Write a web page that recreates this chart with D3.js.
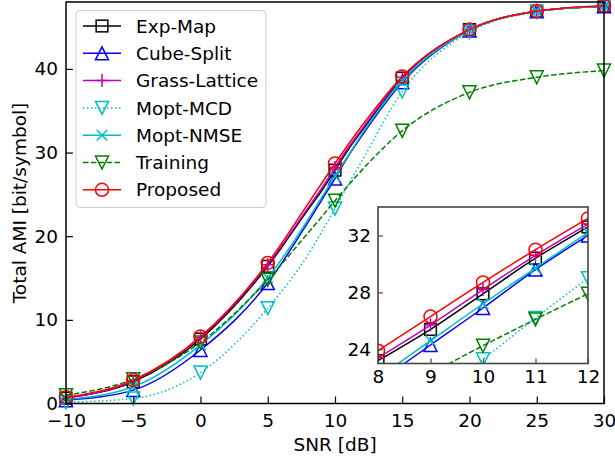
<!DOCTYPE html>
<html>
<head>
<meta charset="utf-8">
<script src="https://cdn.jsdelivr.net/npm/d3@7"></script>
<style>
  html, body { margin: 0; padding: 0; background: #fff; }
  svg { display: block; font-family: "DejaVu Sans", sans-serif; }
</style>
</head>
<body>
<svg id="chart" width="615" height="458"></svg>
<script>
// SNR grid (dB) and total AMI per scheme (bit/symbol)
const snr = [-10, -5, 0, 5, 8, 9, 10, 11, 12, 15, 20, 25, 30];
const expMap       = [0.65, 2.6, 7.7, 16.4, 23.2, 25.4, 27.9, 30.4, 32.6, 38.9, 44.7, 46.9, 47.5];
const cubeSplit    = [0.4, 1.6, 6.4, 14.4, 21.7, 24.3, 26.9, 29.6, 32.0, 38.4, 44.6, 46.9, 47.5];
const grassLattice = [0.6, 2.7, 7.9, 16.6, 23.4, 25.7, 28.2, 30.6, 32.8, 39.0, 44.7, 46.9, 47.5];
const moptMCD      = [0.15, 0.6, 3.7, 11.4, 17.8, 20.5, 23.3, 26.2, 29.0, 37.3, 44.4, 46.8, 47.5];
const moptNMSE     = [0.5, 2.0, 7.0, 15.0, 22.0, 24.6, 27.2, 29.7, 32.2, 38.6, 44.6, 46.9, 47.5];
const training     = [1.0, 2.9, 7.3, 14.8, 20.4, 22.3, 24.25, 26.1, 27.9, 32.6, 37.2, 39.0, 39.8];
const proposed     = [0.75, 2.8, 8.0, 16.8, 23.9, 26.3, 28.7, 31.0, 33.2, 39.1, 44.7, 46.9, 47.55];

const names = ["Exp-Map", "Cube-Split", "Grass-Lattice", "Mopt-MCD", "Mopt-NMSE", "Training", "Proposed"];
const values = [expMap, cubeSplit, grassLattice, moptMCD, moptNMSE, training, proposed];
const colors = ["#000000", "#0000ff", "#bf00bf", "#00bfbf", "#00bfbf", "#008000", "#ff0000"];
const markers = ["square", "triUp", "plus", "triDown", "cross", "triDown", "circle"];
const dashes = [null, null, null, "1.5,2.5", null, "5.5,2.4", null];

const xTicks = [-10, -5, 0, 5, 10, 15, 20, 25, 30];
const yTicks = [0, 10, 20, 30, 40];
const xTicksInset = [8, 9, 10, 11, 12];
const yTicksInset = [24, 28, 32];

const series = names.map((name, i) => ({
  name, color: colors[i], marker: markers[i], dash: dashes[i],
  points: snr.map((s, j) => ({ x: s, y: values[i][j] }))
}));

const svg = d3.select("#chart");
const FONT = 18.5;

// main axes
const x = d3.scaleLinear().domain([-10, 30]).range([66, 604]);
const y = d3.scaleLinear().domain([0, 48]).range([403.5, 2]);

// marker glyphs centred at 0,0
function drawMarker(g, type, color, s) {
  const h = s / 2;
  const common = sel => sel.attr("fill", "none").attr("stroke", color).attr("stroke-width", 1.5);
  if (type === "circle") common(g.append("circle").attr("r", h));
  else if (type === "square") common(g.append("rect").attr("x", -h * 0.9).attr("y", -h * 0.9).attr("width", s * 0.9).attr("height", s * 0.9));
  else if (type === "triUp") common(g.append("path").attr("d", `M0,${-h}L${h},${h}L${-h},${h}Z`));
  else if (type === "triDown") common(g.append("path").attr("d", `M0,${h}L${h},${-h}L${-h},${-h}Z`));
  else if (type === "plus") common(g.append("path").attr("d", `M${-h},0H${h}M0,${-h}V${h}`));
  else if (type === "cross") common(g.append("path").attr("d", `M${-h*0.8},${-h*0.8}L${h*0.8},${h*0.8}M${-h*0.8},${h*0.8}L${h*0.8},${-h*0.8}`));
}

function drawSeries(root, sx, sy, clipId, markerFilter) {
  const g = root.append("g").attr("clip-path", `url(#${clipId})`);
  const line = d3.line().x(d => sx(d.x)).y(d => sy(d.y)).curve(d3.curveMonotoneX);
  series.forEach(s => {
    const pts = s.points.filter(d => sx.domain()[0] - 1.5 <= d.x && d.x <= sx.domain()[1] + 3.5);
    g.append("path").datum(pts).attr("d", line)
      .attr("fill", "none").attr("stroke", s.color).attr("stroke-width", 1.5)
      .attr("stroke-dasharray", s.dash);
    s.points.filter(markerFilter).forEach(d => {
      drawMarker(g.append("g").attr("transform", `translate(${sx(d.x)},${sy(d.y)})`), s.marker, s.color, 13);
    });
  });
}

const defs = svg.append("defs");
defs.append("clipPath").attr("id", "clipMain").append("rect")
  .attr("x", 66 - 8).attr("y", 2 - 8).attr("width", 604 - 66 + 16).attr("height", 403.5 - 2 + 16);

// main curves
drawSeries(svg, x, y, "clipMain", d => d.x % 5 === 0);

// main frame
svg.append("rect").attr("x", 66).attr("y", 2).attr("width", 604 - 66).attr("height", 401.5)
  .attr("fill", "none").attr("stroke", "#000").attr("stroke-width", 1.5);

// main axes with inward ticks
const xAxis = svg.append("g").attr("transform", "translate(0,403.5)")
  .call(d3.axisBottom(x).tickValues(xTicks).tickSizeInner(-7).tickSizeOuter(0).tickPadding(10)
    .tickFormat(d => d < 0 ? "\u2212" + Math.abs(d) : d));
const yAxis = svg.append("g").attr("transform", "translate(66,0)")
  .call(d3.axisLeft(y).tickValues(yTicks).tickSizeInner(-7).tickSizeOuter(0).tickPadding(8));
[xAxis, yAxis].forEach(a => {
  a.select(".domain").remove();
  a.selectAll(".tick line").attr("stroke", "#000").attr("stroke-width", 1.2);
  a.selectAll("text").attr("font-size", FONT).attr("fill", "#000").attr("font-family", "DejaVu Sans");
});

svg.append("text").attr("x", 335).attr("y", 451).attr("text-anchor", "middle")
  .attr("font-size", FONT).text("SNR [dB]");
svg.append("text").attr("transform", "translate(26,203) rotate(-90)").attr("text-anchor", "middle")
  .attr("font-size", FONT).text("Total AMI [bit/symbol]");

// legend
const lg = svg.append("g");
lg.append("rect").attr("x", 76).attr("y", 10.5).attr("width", 190).attr("height", 197).attr("rx", 4)
  .attr("fill", "#fff").attr("fill-opacity", 0.8).attr("stroke", "#cccccc").attr("stroke-width", 1);
series.forEach((s, i) => {
  const cy = 26 + i * 27.3;
  lg.append("line").attr("x1", 83).attr("x2", 121).attr("y1", cy).attr("y2", cy)
    .attr("stroke", s.color).attr("stroke-width", 1.5).attr("stroke-dasharray", s.dash);
  drawMarker(lg.append("g").attr("transform", `translate(102,${cy})`), s.marker, s.color, 13);
  lg.append("text").attr("x", 136).attr("y", cy).attr("dy", "0.36em")
    .attr("font-size", FONT).attr("fill", "#000").text(s.name);
});

// zoomed inset around 8–12 dB
const xi = d3.scaleLinear().domain([8, 12]).range([378, 588]);
const yi = d3.scaleLinear().domain([23, 34]).range([363.5, 207]);
const inset = svg.append("g");
inset.append("rect").attr("x", 378).attr("y", 207).attr("width", 210).attr("height", 156.5).attr("fill", "#fff");
defs.append("clipPath").attr("id", "clipInset").append("rect")
  .attr("x", 378).attr("y", 207).attr("width", 210).attr("height", 156.5);
drawSeries(inset, xi, yi, "clipInset", d => d.x >= 8 && d.x <= 12);
inset.append("rect").attr("x", 378).attr("y", 207).attr("width", 210).attr("height", 156.5)
  .attr("fill", "none").attr("stroke", "#444").attr("stroke-width", 1.6);
const xiAxis = inset.append("g").attr("transform", "translate(0,363.5)")
  .call(d3.axisBottom(xi).tickValues(xTicksInset).tickSizeInner(-5).tickSizeOuter(0).tickPadding(6)
    .tickFormat(d3.format("d")));
const yiAxis = inset.append("g").attr("transform", "translate(378,0)")
  .call(d3.axisLeft(yi).tickValues(yTicksInset).tickSizeInner(-5).tickSizeOuter(0).tickPadding(7)
    .tickFormat(d3.format("d")));
[xiAxis, yiAxis].forEach(a => {
  a.select(".domain").remove();
  a.selectAll(".tick line").attr("stroke", "#444").attr("stroke-width", 1.2);
  a.selectAll("text").attr("font-size", FONT).attr("fill", "#000").attr("font-family", "DejaVu Sans");
});
</script>
</body>
</html>
